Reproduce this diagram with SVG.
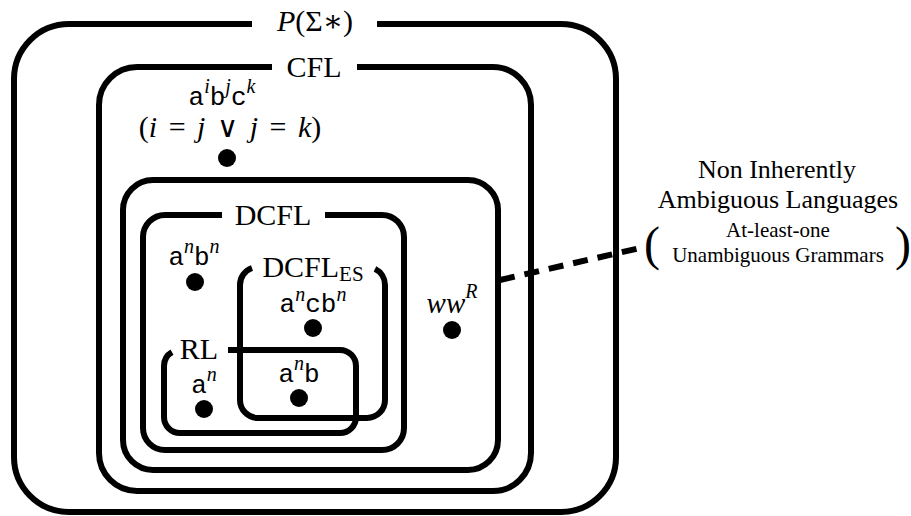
<svg xmlns="http://www.w3.org/2000/svg" width="911" height="516" viewBox="0 0 911 516">
<style>
.box{fill:none;stroke:#000;stroke-width:6;stroke-linecap:butt}
.dot{fill:#000}
text{font-family:"Liberation Serif","DejaVu Serif",serif;fill:#000}
.lbl{font-size:30px}
.it{font-style:italic}
.tt{font-family:"Liberation Mono","DejaVu Sans Mono",monospace;font-style:normal;font-size:26px}
.math{font-size:29px}
.eq{font-size:30px;word-spacing:4px}
.op{font-family:"DejaVu Serif","DejaVu Sans",serif;font-size:29px}
.sup{font-size:20px;font-style:italic}
.ann{font-size:26px}
.ann2{font-size:21px}
.paren{font-size:48px}
.conn{fill:none;stroke:#000;stroke-width:6;stroke-dasharray:15 10}
</style>
<rect width="911" height="516" fill="#fff"/>
<g id="all-languages">
<path class="box" d="M377,24 H561 A55,55 0 0 1 616,79 V457 A55,55 0 0 1 561,512 H69 A55,55 0 0 1 14,457 V79 A55,55 0 0 1 69,24 H252"/>
<text class="lbl" x="315" y="31" text-anchor="middle"><tspan class="it">P</tspan>(Σ∗)</text>
</g>
<g id="cfl">
<path class="box" d="M357,67 H493 A38,38 0 0 1 531,105 V453 A38,38 0 0 1 493,491 H137 A38,38 0 0 1 99,453 V105 A38,38 0 0 1 137,67 H272"/>
<text class="lbl" x="314" y="77" text-anchor="middle">CFL</text>
</g>
<g id="aibjck">
<text class="math" x="222" y="105" text-anchor="middle"><tspan class="tt">a</tspan><tspan class="sup" dy="-12">i</tspan><tspan class="tt" dy="12">b</tspan><tspan class="sup" dy="-12">j</tspan><tspan class="tt" dy="12">c</tspan><tspan class="sup" dy="-12">k</tspan></text>
<text class="eq" x="230" y="137" text-anchor="middle">(<tspan class="it">i</tspan> = <tspan class="it">j</tspan> <tspan class="op">∨</tspan> <tspan class="it">j</tspan> = <tspan class="it">k</tspan>)</text>
<circle class="dot" cx="227" cy="158" r="9"/>
</g>
<g id="non-inherently-ambiguous">
<rect class="box" x="123" y="180" width="375" height="290" rx="30" ry="30"/>
</g>
<g id="wwR">
<text class="math" x="452" y="313" text-anchor="middle"><tspan class="it">ww</tspan><tspan class="sup" dy="-15">R</tspan></text>
<circle class="dot" cx="452" cy="330" r="9"/>
</g>
<g id="dcfl">
<path class="box" d="M325,215 H382 A22,22 0 0 1 404,237 V428 A22,22 0 0 1 382,450 H165 A22,22 0 0 1 143,428 V237 A22,22 0 0 1 165,215 H222"/>
<text class="lbl" x="273" y="225" text-anchor="middle">DCFL</text>
</g>
<g id="anbn">
<text class="math" x="194" y="265" text-anchor="middle"><tspan class="tt">a</tspan><tspan class="sup" dy="-12">n</tspan><tspan class="tt" dy="12">b</tspan><tspan class="sup" dy="-12">n</tspan></text>
<circle class="dot" cx="195" cy="282" r="9"/>
</g>
<g id="dcfl-es">
<path class="box" d="M375,268.9 A18,18 0 0 1 385,285 V400 A18,18 0 0 1 367,418 H258 A18,18 0 0 1 240,400 V285 A18,18 0 0 1 252,268"/>
<text class="lbl" x="313" y="277" text-anchor="middle">DCFL<tspan font-size="21px" dy="4">ES</tspan></text>
</g>
<g id="ancbn">
<text class="math" x="313" y="312" text-anchor="middle"><tspan class="tt">a</tspan><tspan class="sup" dy="-11">n</tspan><tspan class="tt" dy="11">cb</tspan><tspan class="sup" dy="-11">n</tspan></text>
<circle class="dot" cx="313" cy="328" r="9"/>
</g>
<g id="rl">
<path class="box" d="M228,350 H340 A16,16 0 0 1 356,366 V417 A16,16 0 0 1 340,433 H180 A16,16 0 0 1 164,417 V366 A16,16 0 0 1 172,352.1"/>
<text class="lbl" x="199" y="359" text-anchor="middle">RL</text>
</g>
<g id="an">
<text class="math" x="204" y="393" text-anchor="middle"><tspan class="tt">a</tspan><tspan class="sup" dy="-12">n</tspan></text>
<circle class="dot" cx="204" cy="409" r="9"/>
</g>
<g id="anb">
<text class="math" x="299" y="382" text-anchor="middle"><tspan class="tt">a</tspan><tspan class="sup" dy="-12">n</tspan><tspan class="tt" dy="12">b</tspan></text>
<circle class="dot" cx="299" cy="398" r="9"/>
</g>
<g id="annotation">
<text class="ann" x="777" y="178" text-anchor="middle">Non Inherently</text>
<text class="ann" x="778" y="208" text-anchor="middle">Ambiguous Languages</text>
<text class="paren" x="652" y="260" text-anchor="middle">(</text>
<text class="ann2" x="778" y="237" text-anchor="middle">At-least-one</text>
<text class="ann2" x="778" y="262" text-anchor="middle">Unambiguous Grammars</text>
<text class="paren" x="903" y="260" text-anchor="middle">)</text>
</g>
<g id="connectors">
<path class="conn" d="M500,280 L640,248"/>
</g>
</svg>
